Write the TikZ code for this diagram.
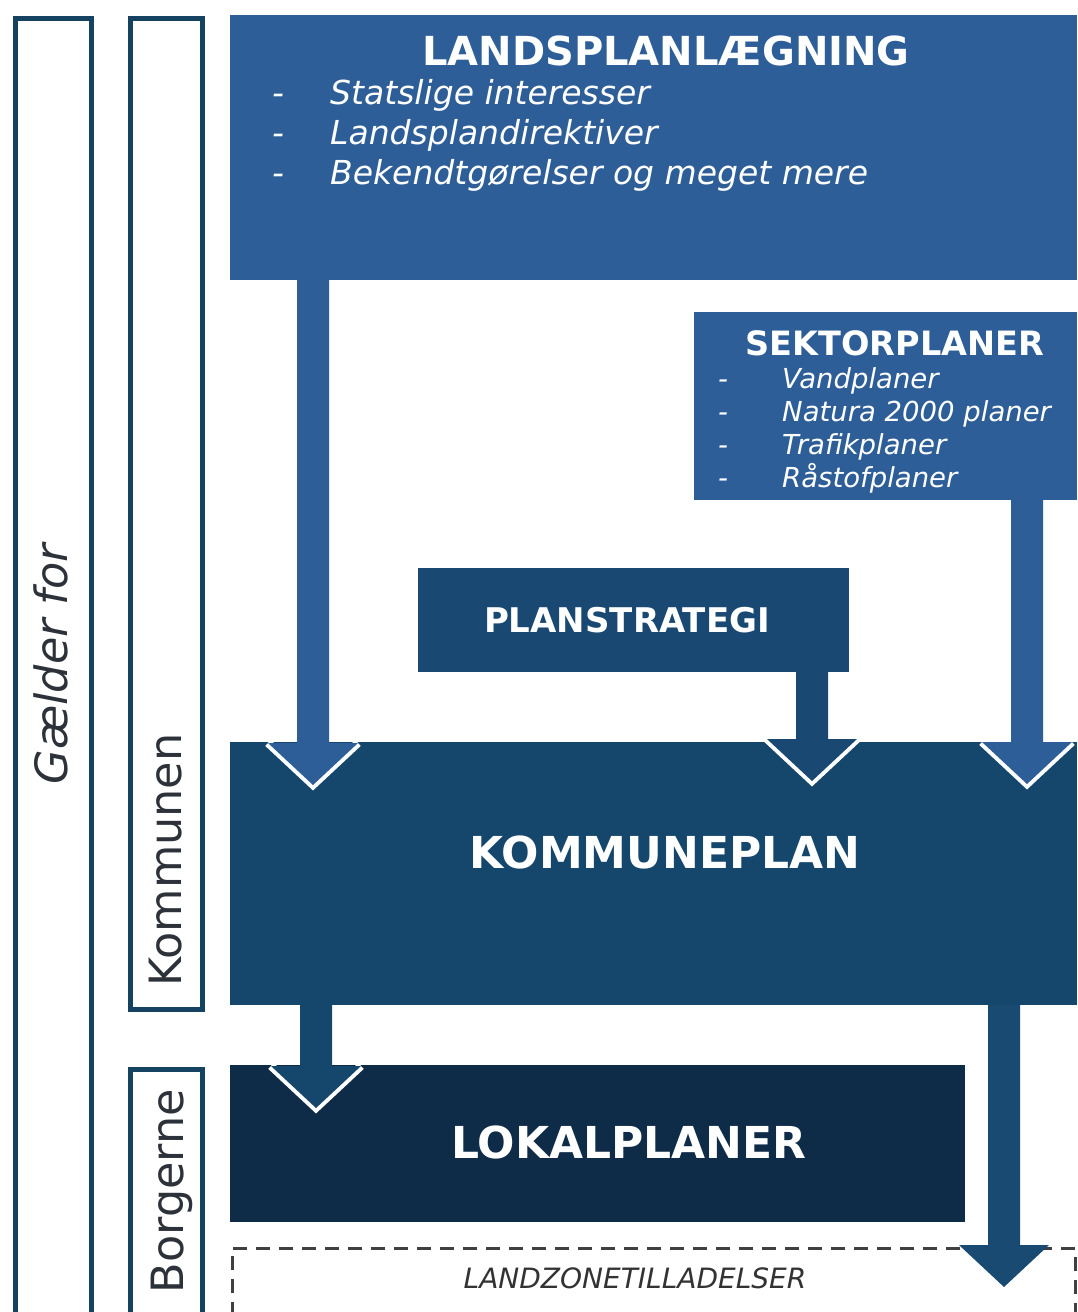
\documentclass[tikz,border=0pt]{standalone}
\usepackage{fontspec}
\setmainfont{DejaVu Sans}
\usetikzlibrary{positioning,calc}

\definecolor{landblue}{RGB}{46,94,152}
\definecolor{stratblue}{RGB}{25,72,114}
\definecolor{kommblue}{RGB}{21,70,108}
\definecolor{lokalblue}{RGB}{14,43,71}
\definecolor{zoneblue}{RGB}{24,74,114}
\definecolor{barcolor}{RGB}{21,66,96}
\definecolor{bartext}{RGB}{45,50,58}

\tikzset{
    plan box/.style={fill=#1,inner sep=0pt,outer sep=0pt,anchor=north west},
    bar box/.style={draw=barcolor,line width=4.5pt,inner sep=0pt,anchor=north west},
    bar label/.style={rotate=90,anchor=base,text=bartext,font=\fontsize{44.5}{50}\selectfont},
    title/.style={text=white,inner sep=0pt,font=\fontsize{#1}{#1}\selectfont\bfseries},
    item/.style={text=white,inner sep=0pt,anchor=base west,font=\fontsize{#1}{#1}\selectfont\itshape},
    head edge/.style={draw=white,line width=8pt,
        to path={let \p2=(\tikztotarget) in
            (\x2-45pt,\y2+42pt) -- (\tikztotarget) -- (\x2+45pt,\y2+42pt)}},
    block arrow/.style={fill=#1,
        to path={let \p1=(\tikztostart), \p2=(\tikztotarget) in
            (\x1-16pt,\y1) -- (\x1-16pt,\y2+42pt) -- (\x2-45pt,\y2+42pt) -- (\tikztotarget)
            -- (\x2+45pt,\y2+42pt) -- (\x1+16pt,\y2+42pt) -- (\x1+16pt,\y1) -- cycle}},
}

\begin{document}
\begin{tikzpicture}[x=1pt,y=-1pt]
    \useasboundingbox[fill=white] (0,0) rectangle (1077,1312);

    % bars on the left
    \node[bar box,minimum width=76pt,minimum height=1320pt] (gaelder) at (13,16) {};
    \node[bar box,minimum width=72pt,minimum height=991pt] (kommunen) at (128,16) {};
    \node[bar box,minimum width=72pt,minimum height=270pt] (borgerne) at (128,1067) {};
    \node[bar label,font=\fontsize{44.5}{50}\selectfont\itshape] (gaeldertxt) at (67,664) {Gælder for};
    \node[bar label] (kommunentxt) at (181,860) {Kommunen};
    \node[bar label] (borgernetxt) at (183,1191) {Borgerne};

    % plan boxes
    \node[plan box=landblue,minimum width=847pt,minimum height=265pt] (lands) at (230,15) {};
    \node[plan box=landblue,minimum width=383pt,minimum height=188pt] (sektor) at (694,312) {};
    \node[plan box=stratblue,minimum width=431pt,minimum height=104pt] (strat) at (418,568) {};
    \node[plan box=kommblue,minimum width=847pt,minimum height=263pt] (kommune) at (230,742) {};
    \node[plan box=lokalblue,minimum width=735pt,minimum height=157pt] (lokal) at (230,1065) {};
    \node[draw=black!75,line width=2.5pt,dash pattern=on 14pt off 9pt,inner sep=0pt,anchor=north west,
        minimum width=843pt,minimum height=100pt] (zone) at (231,1247) {};

    % texts
    \node[title=40] (landstitle) at (666,51) {LANDSPLANLÆGNING};
    \foreach \txt [count=\i] in {Statslige interesser,Landsplandirektiver,Bekendtgørelser og meget mere} {
        \node[item=33] (landsdash\i) at ($(lands.north west)+(42,{49+40*\i})$) {-};
        \node[item=33] (landsitem\i) at ($(lands.north west)+(100,{49+40*\i})$) {\txt};
    }
    \node[title=33.5] (sektortitle) at (895,343) {SEKTORPLANER};
    \foreach \txt [count=\i] in {Vandplaner,Natura 2000 planer,Trafikplaner,Råstofplaner} {
        \node[item=27.5] (sektordash\i) at ($(sektor.north west)+(24,{43+33*\i})$) {-};
        \node[item=27.5] (sektoritem\i) at ($(sektor.north west)+(88,{43+33*\i})$) {\txt};
    }
    \node[title=34] (strattitle) at (627,620) {PLANSTRATEGI};
    \node[title=44] (kommunetitle) at (665,852) {KOMMUNEPLAN};
    \node[title=44] (lokaltitle) at (629,1142) {LOKALPLANER};
    \node[text=black!80,inner sep=0pt,font=\fontsize{28}{28}\selectfont\itshape] (zonetitle) at (635,1278) {LANDZONETILLADELSER};

    % arrow tips
    \coordinate (tipL) at (313,785);
    \coordinate (tipP) at (812,781);
    \coordinate (tipS) at (1027,784);
    \coordinate (tipK) at (316,1108);
    \coordinate (tipZ) at (1004,1287);

    \draw[head edge] (lands.south -| tipL) to (tipL);
    \draw[head edge] (strat.south -| tipP) to (tipP);
    \draw[head edge] (sektor.south -| tipS) to (tipS);
    \draw[head edge] (kommune.south -| tipK) to (tipK);

    \path[block arrow=landblue] (lands.south -| tipL) to (tipL);
    \path[block arrow=stratblue] (strat.south -| tipP) to (tipP);
    \path[block arrow=landblue] (sektor.south -| tipS) to (tipS);
    \path[block arrow=kommblue] (kommune.south -| tipK) to (tipK);
    \path[block arrow=zoneblue] (kommune.south -| tipZ) to (tipZ);
\end{tikzpicture}
\end{document}
